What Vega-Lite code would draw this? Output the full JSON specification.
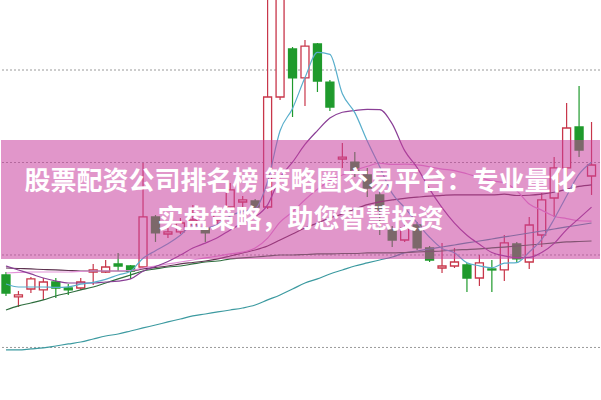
{
  "$schema": "https://vega.github.io/schema/vega-lite/v6.json",
  "width": 601,
  "height": 400,
  "autosize": {"type": "fit", "contains": "padding"},
  "padding": 0,
  "background": "#ffffff",
  "config": {"view": {"stroke": null}, "scale": {"continuousPadding": 0}},
  "datasets": {
    "k": [
      {"i":0,"o":9.784,"h":9.816,"l":9.557,"c":9.589,"dir":"down","ma5":9.686,"ma10":9.881,"ma20":9.805,"ma30":9.859,"ma60":9.405,"ma120":8.973},
      {"i":1,"o":9.546,"h":9.611,"l":9.438,"c":9.568,"dir":"up","ma5":9.654,"ma10":9.838,"ma20":9.811,"ma30":9.854,"ma60":9.449,"ma120":8.973},
      {"i":2,"o":9.632,"h":9.762,"l":9.589,"c":9.741,"dir":"up","ma5":9.654,"ma10":9.795,"ma20":9.816,"ma30":9.849,"ma60":9.481,"ma120":8.984},
      {"i":3,"o":9.622,"h":9.751,"l":9.514,"c":9.708,"dir":"up","ma5":9.654,"ma10":9.751,"ma20":9.816,"ma30":9.843,"ma60":9.514,"ma120":8.995},
      {"i":4,"o":9.708,"h":9.751,"l":9.535,"c":9.643,"dir":"down","ma5":9.650,"ma10":9.719,"ma20":9.816,"ma30":9.838,"ma60":9.557,"ma120":9.016},
      {"i":5,"o":9.643,"h":9.686,"l":9.568,"c":9.622,"dir":"down","ma5":9.656,"ma10":9.697,"ma20":9.816,"ma30":9.832,"ma60":9.589,"ma120":9.038},
      {"i":6,"o":9.643,"h":9.751,"l":9.622,"c":9.708,"dir":"up","ma5":9.684,"ma10":9.697,"ma20":9.822,"ma30":9.827,"ma60":9.622,"ma120":9.059},
      {"i":7,"o":9.816,"h":9.903,"l":9.676,"c":9.838,"dir":"up","ma5":9.704,"ma10":9.697,"ma20":9.827,"ma30":9.827,"ma60":9.654,"ma120":9.092},
      {"i":8,"o":9.816,"h":9.946,"l":9.805,"c":9.870,"dir":"up","ma5":9.736,"ma10":9.708,"ma20":9.827,"ma30":9.827,"ma60":9.697,"ma120":9.124},
      {"i":9,"o":9.903,"h":10.022,"l":9.827,"c":9.881,"dir":"down","ma5":9.784,"ma10":9.717,"ma20":9.827,"ma30":9.827,"ma60":9.741,"ma120":9.146},
      {"i":10,"o":9.881,"h":9.892,"l":9.741,"c":9.827,"dir":"down","ma5":9.825,"ma10":9.741,"ma20":9.832,"ma30":9.827,"ma60":9.784,"ma120":9.178},
      {"i":11,"o":9.870,"h":10.995,"l":9.859,"c":10.411,"dir":"up","ma5":9.965,"ma10":9.825,"ma20":9.859,"ma30":9.849,"ma60":9.827,"ma120":9.211},
      {"i":12,"o":10.411,"h":10.432,"l":10.141,"c":10.238,"dir":"down","ma5":10.045,"ma10":9.875,"ma20":9.881,"ma30":9.865,"ma60":9.849,"ma120":9.243},
      {"i":13,"o":10.227,"h":10.292,"l":10.184,"c":10.249,"dir":"up","ma5":10.121,"ma10":9.929,"ma20":9.903,"ma30":9.881,"ma60":9.870,"ma120":9.276},
      {"i":14,"o":10.249,"h":10.400,"l":10.227,"c":10.346,"dir":"up","ma5":10.214,"ma10":9.999,"ma20":9.924,"ma30":9.903,"ma60":9.881,"ma120":9.308},
      {"i":15,"o":10.324,"h":10.541,"l":10.303,"c":10.378,"dir":"up","ma5":10.324,"ma10":10.075,"ma20":9.946,"ma30":9.919,"ma60":9.903,"ma120":9.341},
      {"i":16,"o":10.292,"h":10.314,"l":10.141,"c":10.238,"dir":"down","ma5":10.290,"ma10":10.128,"ma20":9.968,"ma30":9.935,"ma60":9.924,"ma120":9.362},
      {"i":17,"o":10.378,"h":10.508,"l":10.335,"c":10.443,"dir":"up","ma5":10.331,"ma10":10.188,"ma20":9.989,"ma30":9.957,"ma60":9.935,"ma120":9.384},
      {"i":18,"o":10.519,"h":10.778,"l":10.497,"c":10.703,"dir":"up","ma5":10.422,"ma10":10.271,"ma20":10.011,"ma30":9.989,"ma60":9.957,"ma120":9.405},
      {"i":19,"o":10.573,"h":10.638,"l":10.508,"c":10.595,"dir":"up","ma5":10.471,"ma10":10.343,"ma20":10.030,"ma30":10.022,"ma60":9.968,"ma120":9.427},
      {"i":20,"o":10.584,"h":10.605,"l":10.497,"c":10.519,"dir":"down","ma5":10.499,"ma10":10.412,"ma20":10.076,"ma30":10.054,"ma60":9.978,"ma120":9.459},
      {"i":21,"o":10.519,"h":13.081,"l":10.497,"c":11.708,"dir":"up","ma5":10.794,"ma10":10.542,"ma20":10.183,"ma30":10.097,"ma60":9.989,"ma120":9.514},
      {"i":22,"o":11.708,"h":13.297,"l":11.676,"c":13.189,"dir":"up","ma5":11.343,"ma10":10.837,"ma20":10.356,"ma30":10.162,"ma60":10.000,"ma120":9.568},
      {"i":23,"o":12.227,"h":12.249,"l":11.492,"c":11.914,"dir":"down","ma5":11.585,"ma10":11.003,"ma20":10.466,"ma30":10.227,"ma60":10.000,"ma120":9.632},
      {"i":24,"o":11.914,"h":12.324,"l":11.611,"c":12.259,"dir":"up","ma5":11.918,"ma10":11.195,"ma20":10.597,"ma30":10.292,"ma60":10.005,"ma120":9.697},
      {"i":25,"o":12.281,"h":12.292,"l":11.762,"c":11.881,"dir":"down","ma5":12.190,"ma10":11.345,"ma20":10.710,"ma30":10.346,"ma60":10.011,"ma120":9.741},
      {"i":26,"o":11.870,"h":11.892,"l":11.557,"c":11.600,"dir":"down","ma5":12.169,"ma10":11.481,"ma20":10.804,"ma30":10.400,"ma60":10.011,"ma120":9.795},
      {"i":27,"o":11.038,"h":11.211,"l":10.941,"c":11.059,"dir":"up","ma5":11.743,"ma10":11.543,"ma20":10.865,"ma30":10.443,"ma60":10.016,"ma120":9.838},
      {"i":28,"o":11.005,"h":11.114,"l":10.843,"c":10.897,"dir":"down","ma5":11.539,"ma10":11.562,"ma20":10.917,"ma30":10.497,"ma60":10.016,"ma120":9.881},
      {"i":29,"o":10.865,"h":10.941,"l":10.627,"c":10.724,"dir":"down","ma5":11.232,"ma10":11.575,"ma20":10.959,"ma30":10.545,"ma60":10.022,"ma120":9.914},
      {"i":30,"o":10.649,"h":10.703,"l":10.216,"c":10.486,"dir":"down","ma5":10.954,"ma10":11.572,"ma20":10.992,"ma30":10.575,"ma60":10.022,"ma120":9.946},
      {"i":31,"o":10.270,"h":10.314,"l":10.086,"c":10.162,"dir":"down","ma5":10.666,"ma10":11.417,"ma20":10.979,"ma30":10.595,"ma60":10.022,"ma120":9.978},
      {"i":32,"o":10.162,"h":10.335,"l":10.141,"c":10.292,"dir":"up","ma5":10.512,"ma10":11.128,"ma20":10.982,"ma30":10.613,"ma60":10.027,"ma120":10.022},
      {"i":33,"o":10.324,"h":10.357,"l":10.054,"c":10.076,"dir":"down","ma5":10.348,"ma10":10.944,"ma20":10.974,"ma30":10.625,"ma60":10.032,"ma120":10.043},
      {"i":34,"o":10.076,"h":10.097,"l":9.924,"c":9.946,"dir":"down","ma5":10.192,"ma10":10.712,"ma20":10.954,"ma30":10.636,"ma60":10.038,"ma120":10.065},
      {"i":35,"o":9.859,"h":10.130,"l":9.805,"c":9.881,"dir":"up","ma5":10.071,"ma10":10.512,"ma20":10.929,"ma30":10.644,"ma60":10.043,"ma120":10.086},
      {"i":36,"o":9.881,"h":10.076,"l":9.859,"c":9.924,"dir":"up","ma5":10.024,"ma10":10.345,"ma20":10.913,"ma30":10.651,"ma60":10.054,"ma120":10.108},
      {"i":37,"o":9.892,"h":9.914,"l":9.600,"c":9.751,"dir":"down","ma5":9.916,"ma10":10.214,"ma20":10.878,"ma30":10.649,"ma60":10.059,"ma120":10.130},
      {"i":38,"o":9.751,"h":10.000,"l":9.665,"c":9.914,"dir":"up","ma5":9.883,"ma10":10.116,"ma20":10.839,"ma30":10.650,"ma60":10.065,"ma120":10.151},
      {"i":39,"o":9.849,"h":9.946,"l":9.600,"c":9.838,"dir":"down","ma5":9.862,"ma10":10.027,"ma20":10.801,"ma30":10.649,"ma60":10.076,"ma120":10.173},
      {"i":40,"o":9.838,"h":10.216,"l":9.719,"c":10.130,"dir":"up","ma5":9.911,"ma10":9.991,"ma20":10.782,"ma30":10.658,"ma60":10.086,"ma120":10.195},
      {"i":41,"o":10.119,"h":10.141,"l":9.924,"c":9.957,"dir":"down","ma5":9.918,"ma10":9.971,"ma20":10.694,"ma30":10.643,"ma60":10.097,"ma120":10.216},
      {"i":42,"o":9.924,"h":10.411,"l":9.849,"c":10.324,"dir":"up","ma5":10.032,"ma10":9.974,"ma20":10.551,"ma30":10.646,"ma60":10.108,"ma120":10.238},
      {"i":43,"o":10.216,"h":10.670,"l":10.086,"c":10.595,"dir":"up","ma5":10.169,"ma10":10.026,"ma20":10.485,"ma30":10.657,"ma60":10.119,"ma120":10.259},
      {"i":44,"o":10.616,"h":11.059,"l":10.411,"c":10.941,"dir":"up","ma5":10.389,"ma10":10.125,"ma20":10.419,"ma30":10.678,"ma60":10.130,"ma120":10.281},
      {"i":45,"o":10.941,"h":11.643,"l":10.854,"c":11.373,"dir":"up","ma5":10.638,"ma10":10.275,"ma20":10.394,"ma30":10.710,"ma60":10.141,"ma120":10.303},
      {"i":46,"o":11.384,"h":11.827,"l":11.059,"c":11.135,"dir":"down","ma5":10.874,"ma10":10.396,"ma20":10.370,"ma30":10.741,"ma60":10.146,"ma120":10.324},
      {"i":47,"o":10.854,"h":11.438,"l":10.649,"c":10.973,"dir":"up","ma5":11.003,"ma10":10.518,"ma20":10.366,"ma30":10.758,"ma60":10.151,"ma120":10.346}
    ],
    "grid": [{"g": 9}, {"g": 10}, {"g": 11}, {"g": 12}],
    "band": [{"from": -0.4, "to": 47.68, "lo": 9.957, "hi": 11.243}],
    "txt": [
      {"t": "股票配资公司排名榜 策略圈交易平台：专业量化", "x": 23.64, "y": 10.789},
      {"t": "实盘策略，助您智慧投资", "x": 23.64, "y": 10.378}
    ]
  },
  "layer": [
    {
      "data": {"name": "grid"},
      "mark": {"type": "rule", "strokeDash": [2, 2], "color": "#9a9a9a", "strokeWidth": 1},
      "encoding": {
        "y": {"field": "g", "type": "quantitative", "axis": null, "scale": {"domain": [8.432, 12.757], "nice": false, "zero": false}}
      }
    },
    {
      "data": {"name": "k"},
      "mark": {"type": "rule", "strokeWidth": 1.2, "clip": true},
      "encoding": {
        "x": {"field": "i", "type": "quantitative", "axis": null, "scale": {"domain": [-0.4, 47.68], "nice": false, "zero": false, "padding": 0}},
        "y": {"field": "l", "type": "quantitative", "axis": null, "scale": {"domain": [8.432, 12.757], "nice": false, "zero": false}},
        "y2": {"field": "h"},
        "stroke": {"field": "dir", "type": "nominal", "legend": null, "scale": {"domain": ["up", "down"], "range": ["#c8364a", "#1f9a2c"]}}
      }
    },
    {
      "data": {"name": "k"},
      "mark": {"type": "bar", "size": 8, "strokeWidth": 1.3, "clip": true, "orient": "vertical"},
      "encoding": {
        "x": {"field": "i", "type": "quantitative", "axis": null, "scale": {"domain": [-0.4, 47.68], "nice": false, "zero": false, "padding": 0}},
        "y": {"field": "o", "type": "quantitative", "axis": null, "scale": {"domain": [8.432, 12.757], "nice": false, "zero": false}},
        "y2": {"field": "c"},
        "fill": {"field": "dir", "type": "nominal", "legend": null, "scale": {"domain": ["up", "down"], "range": ["#ffffff", "#1f9a2c"]}},
        "stroke": {"field": "dir", "type": "nominal", "legend": null, "scale": {"domain": ["up", "down"], "range": ["#c8364a", "#1f9a2c"]}}
      }
    },
    {
      "data": {"name": "k"},
      "transform": [{"fold": ["ma120", "ma60", "ma30", "ma20", "ma10", "ma5"], "as": ["ma", "v"]}],
      "mark": {"type": "line", "strokeWidth": 1.2, "interpolate": "monotone", "clip": true},
      "encoding": {
        "x": {"field": "i", "type": "quantitative", "axis": null, "scale": {"domain": [-0.4, 47.68], "nice": false, "zero": false, "padding": 0}},
        "y": {"field": "v", "type": "quantitative", "axis": null, "scale": {"domain": [8.432, 12.757], "nice": false, "zero": false}},
        "color": {"field": "ma", "type": "nominal", "legend": null, "scale": {"domain": ["ma5", "ma10", "ma20", "ma30", "ma60", "ma120"], "range": ["#58aecb", "#8a3f96", "#e391d8", "#5e3350", "#2f6e3e", "#3c9aa0"]}}
      }
    },
    {
      "data": {"name": "band"},
      "mark": {"type": "rect", "color": "#c8409f", "opacity": 0.55},
      "encoding": {
        "x": {"field": "from", "type": "quantitative", "axis": null, "scale": {"domain": [-0.4, 47.68], "nice": false, "zero": false, "padding": 0}},
        "x2": {"field": "to"},
        "y": {"field": "lo", "type": "quantitative", "axis": null, "scale": {"domain": [8.432, 12.757], "nice": false, "zero": false}},
        "y2": {"field": "hi"}
      }
    },
    {
      "data": {"name": "txt"},
      "mark": {"type": "text", "align": "center", "baseline": "middle", "font": "Noto Sans CJK SC", "fontSize": 26, "fontWeight": "bold", "color": "#ffffff"},
      "encoding": {
        "x": {"field": "x", "type": "quantitative", "axis": null, "scale": {"domain": [-0.4, 47.68], "nice": false, "zero": false, "padding": 0}},
        "y": {"field": "y", "type": "quantitative", "axis": null, "scale": {"domain": [8.432, 12.757], "nice": false, "zero": false}},
        "text": {"field": "t", "type": "nominal"}
      }
    }
  ]
}
